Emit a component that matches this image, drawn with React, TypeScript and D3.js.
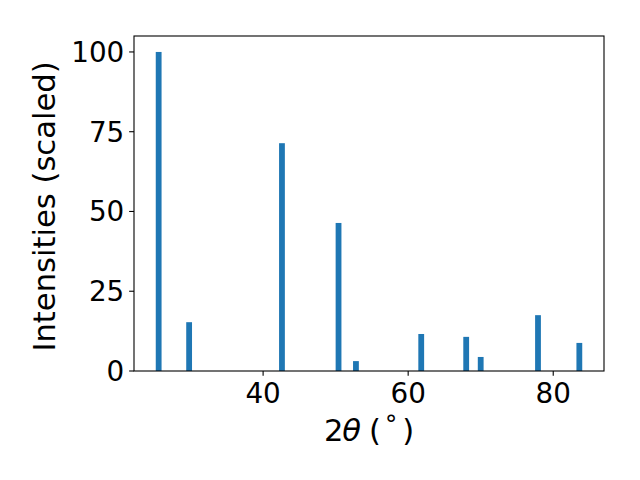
import React from "react";
import * as d3 from "d3";

const angles = [25.6, 29.8, 42.6, 50.4, 52.8, 61.8, 68.0, 70.0, 77.9, 83.6];
const intensities = [100, 15.3, 71.4, 46.4, 3.1, 11.6, 10.7, 4.4, 17.5, 8.8];
const xTicks = [40, 60, 80];
const yTicks = [0, 25, 50, 75, 100];

const W = 640, H = 480;
const M = { left: 134, right: 604, top: 36, bottom: 371 };
const BAR_W = 0.8;
const FONT = "DejaVu Sans, sans-serif";
const FS = 27.8;
const FS_L = 30.6;

export default function App() {
  const x = d3.scaleLinear().domain([22.2, 87.0]).range([M.left, M.right]);
  const y = d3.scaleLinear().domain([0, 105]).range([M.bottom, M.top]);
  const cx = (M.left + M.right) / 2;
  const lab = [
    { t: "2", dx: -35.3, italic: false, size: FS_L, dy: 0 },
    { t: "θ", dx: -17.3, italic: true, size: FS_L, dy: 0 },
    { t: "(", dx: 6, italic: false, size: FS_L, dy: 0 },
    { t: "°", dx: 22, italic: false, size: FS_L * 0.8, dy: -8 },
    { t: ")", dx: 39.3, italic: false, size: FS_L, dy: 0 },
  ];
  return (
    <svg width={W} height={H} style={{ position: "absolute", left: 0, top: 0 }} fontFamily={FONT}>
      <rect width={W} height={H} fill="white" />
      {angles.map((a, i) => (
        <rect key={i} x={x(a - BAR_W / 2)} width={x(a + BAR_W / 2) - x(a - BAR_W / 2)}
          y={y(intensities[i])} height={y(0) - y(intensities[i])} fill="#1f77b4" />
      ))}
      <rect x={M.left} y={M.top} width={M.right - M.left} height={M.bottom - M.top}
        fill="none" stroke="black" strokeWidth={1.1} />
      {xTicks.map(t => (
        <g key={t}>
          <line x1={x(t)} x2={x(t)} y1={M.bottom} y2={M.bottom + 4.86} stroke="black" strokeWidth={1.1} />
          <text x={x(t)} y={403} fontSize={FS} textAnchor="middle">{t}</text>
        </g>
      ))}
      {yTicks.map(t => (
        <g key={t}>
          <line x1={M.left - 4.86} x2={M.left} y1={y(t)} y2={y(t)} stroke="black" strokeWidth={1.1} />
          <text x={M.left - 9.7} y={y(t)} dy="0.36em" fontSize={FS} textAnchor="end">{t}</text>
        </g>
      ))}
      <g>
        {lab.map((p, i) => (
          <text key={i} x={cx + p.dx} y={441 + p.dy} fontSize={p.size} textAnchor="middle"
            fontStyle={p.italic ? "italic" : "normal"}>{p.t}</text>
        ))}
      </g>
      <text transform={`translate(55,${(M.top + M.bottom) / 2 + 3}) rotate(-90)`} fontSize={FS_L} textAnchor="middle">
        Intensities (scaled)
      </text>
    </svg>
  );
}
